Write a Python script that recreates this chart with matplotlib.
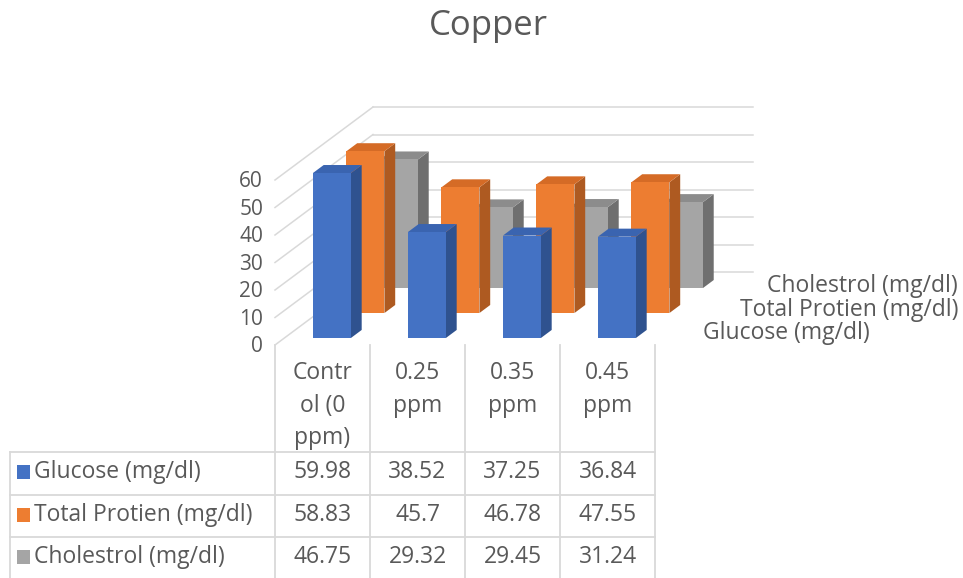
import matplotlib
matplotlib.use("Agg")
import matplotlib.pyplot as plt
from matplotlib.patches import Polygon, Rectangle

plt.rcParams['font.family'] = ['Open Sans', 'DejaVu Sans']

# Copper exposure: blood parameters per dose
categories = ["Contr\nol (0\nppm)", "0.25\nppm", "0.35\nppm", "0.45\nppm"]
series = ["Glucose (mg/dl)", "Total Protien (mg/dl)", "Cholestrol (mg/dl)"]
glucose = [59.98, 38.52, 37.25, 36.84]
protein = [58.83, 45.7, 46.78, 47.55]
cholesterol = [46.75, 29.32, 29.45, 31.24]
yticks = [0, 10, 20, 30, 40, 50, 60]

values = [glucose, protein, cholesterol]
front = ["#4472C4", "#ED7D31", "#A5A5A5"]
side = ["#2F528F", "#AE5A21", "#6F6F6F"]
top = ["#3A64B0", "#D56B26", "#8C8C8C"]
text_c = "#595959"
grid_c = "#D9D9D9"
fs = 16.5

W, H = 963, 578
# pixel layout of the 3-D box
x0, y0 = 275, 345          # front-left corner of the floor
cat_px, val_px = 95, 2.75  # px per category, px per unit
depth_px = (98, 73)        # floor depth offset (right, up)

fig = plt.figure(figsize=(W / 100, H / 100), dpi=100)

# chart axes: x in categories, y in data units
ax = fig.add_axes([0, 0, 1, 1])
ax.set_xlim(-x0 / cat_px, (W - x0) / cat_px)
ax.set_ylim(-(H - y0) / val_px, y0 / val_px)
ax.axis("off")
Dx, Dy = depth_px[0] / cat_px, depth_px[1] / val_px


def proj(x, t, v):
    return x + t * Dx, v + t * Dy


ncat = len(categories)
# back wall and side wall gridlines
for v in yticks:
    a = proj(0, 1, v)
    b = proj(ncat, 1, v)
    c = proj(0, 0, v)
    ax.plot([a[0], b[0]], [a[1], b[1]], color=grid_c, lw=1.1, zorder=1)
    ax.plot([c[0], a[0]], [c[1], a[1]], color=grid_c, lw=1.1, zorder=1)
    ax.text(-12 / cat_px, v - 0.6, str(v), ha="right", va="center",
            fontsize=15, color=text_c)

bw = 0.4       # bar width in categories
thick = 0.11   # bar depth as fraction of floor depth
rows = [0.096, 0.438, 0.78]

z = 2
for s in reversed(range(len(series))):
    t0 = rows[s]
    t1 = t0 + thick
    for c, v in enumerate(values[s]):
        xl = c + 0.5 - bw / 2
        xr = c + 0.5 + bw / 2
        face = [proj(xl, t0, 0), proj(xr, t0, 0), proj(xr, t0, v), proj(xl, t0, v)]
        rside = [proj(xr, t0, 0), proj(xr, t1, 0), proj(xr, t1, v), proj(xr, t0, v)]
        lid = [proj(xl, t0, v), proj(xr, t0, v), proj(xr, t1, v), proj(xl, t1, v)]
        ax.add_patch(Polygon(rside, closed=True, fc=side[s], ec="none", zorder=z))
        ax.add_patch(Polygon(lid, closed=True, fc=top[s], ec="none", zorder=z))
        ax.add_patch(Polygon(face, closed=True, fc=front[s], ec="none", zorder=z))
    z += 1

# overlay in pixel coordinates for title, series names and the data table
tx = fig.add_axes([0, 0, 1, 1])
tx.set_xlim(0, W)
tx.set_ylim(H, 0)
tx.axis("off")
tx.patch.set_alpha(0)

tx.text(488, 26, "Copper", ha="center", va="center", fontsize=25, color=text_c)

tx.text(958, 286, series[2], ha="right", va="center", fontsize=fs, color=text_c)
tx.text(958, 310, series[1], ha="right", va="center", fontsize=fs, color=text_c)
tx.text(703, 333, series[0], ha="left", va="center", fontsize=fs, color=text_c)

col_edges = [275, 370, 465, 560, 655]
row_edges = [452, 495, 537]
row_mid = [472, 515, 557]

for xe in col_edges:
    tx.plot([xe, xe], [345, H], color=grid_c, lw=1.3)
tx.plot([10, 10], [row_edges[0], H], color=grid_c, lw=1.3)
for ye in row_edges:
    tx.plot([10, col_edges[-1]], [ye, ye], color=grid_c, lw=1.3)

for c, lab in enumerate(categories):
    cx = (col_edges[c] + col_edges[c + 1]) / 2
    for k, line in enumerate(lab.split("\n")):
        tx.text(cx, 373 + k * 32.5, line, ha="center", va="center",
                fontsize=fs, color=text_c)

for s, name in enumerate(series):
    ym = row_mid[s]
    tx.add_patch(Rectangle((17, ym - 7), 13, 14, fc=front[s], ec="none"))
    tx.text(34, ym, name, ha="left", va="center", fontsize=fs, color=text_c)
    for c, v in enumerate(values[s]):
        cx = (col_edges[c] + col_edges[c + 1]) / 2
        tx.text(cx, ym, f"{v:g}", ha="center", va="center",
                fontsize=fs, color=text_c)

fig.savefig("out.png", dpi=100)
